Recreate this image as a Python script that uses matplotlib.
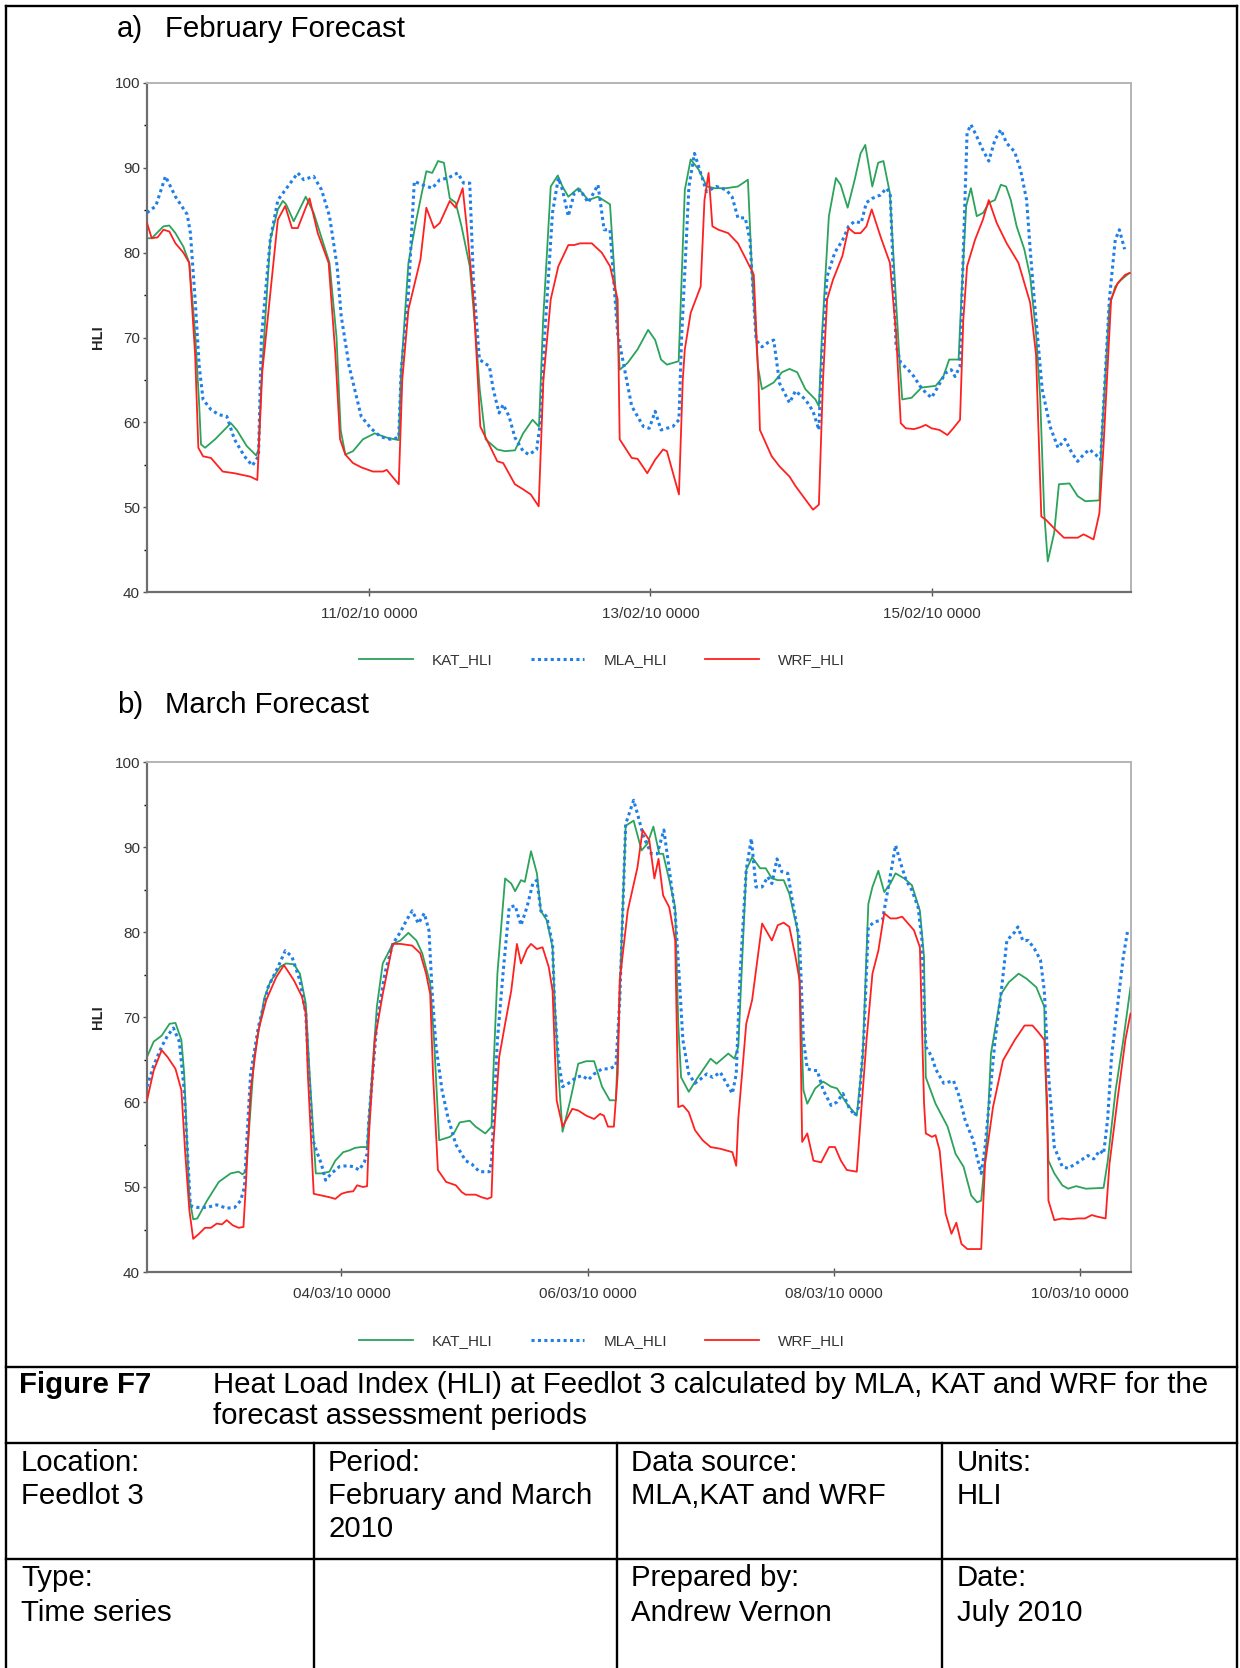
import datetime as dt
import matplotlib
matplotlib.use("Agg")
import matplotlib.pyplot as plt
import matplotlib.dates as mdates
from matplotlib.lines import Line2D
from matplotlib.ticker import MultipleLocator

plt.rcParams['font.family'] = ['Liberation Sans', 'DejaVu Sans']

W, H = 1240, 1668

# ---- February panel: (hours after left edge, HLI) ----
feb_start = dt.datetime(2010, 2, 9, 10, 12)
feb_span_h = 167.6
feb_ticks = [dt.datetime(2010, 2, 11), dt.datetime(2010, 2, 13), dt.datetime(2010, 2, 15)]

kat_feb = [(0.0, 81.7), (0.8, 81.7), (2.8, 83.1), (3.8, 83.2), (4.85, 82.3), (6.2, 80.7), (7.2, 78.8),
           (8.2, 70.5), (8.9, 62.0), (9.2, 57.4), (9.9, 57.0), (11.6, 58.0), (14.3, 59.9), (15.3, 59.1),
           (17.0, 57.2), (18.6, 56.1), (19.0, 56.8), (19.5, 65.0), (21.0, 81.5), (22.3, 85.1), (23.15, 86.1),
           (23.7, 85.7), (25.0, 83.7), (27.05, 86.6), (28.4, 84.7), (31.1, 78.8), (32.3, 70.0), (33.0, 59.1),
           (33.8, 56.2), (35.1, 56.6), (36.8, 58.0), (38.8, 58.7), (40.85, 58.2), (42.9, 57.9), (43.3, 66.0),
           (44.55, 78.8), (45.9, 83.9), (47.6, 89.6), (48.6, 89.4), (49.6, 90.8), (50.6, 90.6), (51.6, 86.4),
           (52.6, 85.9), (53.6, 83.1), (55.0, 78.4), (56.0, 70.5), (56.7, 63.9), (57.7, 58.0), (59.7, 56.8),
           (61.0, 56.6), (62.7, 56.7), (64.1, 58.7), (65.7, 60.3), (66.8, 59.5), (67.5, 72.0), (68.8, 87.8),
           (70.0, 89.1), (70.8, 87.8), (71.8, 86.6), (73.5, 87.6), (75.2, 86.2), (76.85, 86.6), (78.9, 85.7),
           (79.9, 75.0), (80.55, 66.2), (81.9, 67.0), (83.6, 68.6), (85.4, 70.9), (86.6, 69.7), (87.6, 67.4),
           (88.6, 66.8), (90.6, 67.2), (91.65, 87.4), (92.65, 91.0), (94.0, 89.8), (95.4, 87.8), (96.7, 87.6),
           (98.7, 87.6), (100.7, 87.8), (102.4, 88.6), (103.1, 77.6), (104.1, 66.6), (104.8, 63.9),
           (106.8, 64.7), (108.2, 65.9), (109.5, 66.3), (110.8, 65.9), (112.2, 63.9), (113.9, 62.7),
           (114.5, 61.9), (115.0, 70.0), (116.2, 84.3), (117.4, 88.8), (118.2, 88.0), (119.4, 85.3),
           (120.6, 88.6), (121.6, 91.7), (122.4, 92.7), (123.6, 87.8), (124.6, 90.6), (125.5, 90.8),
           (126.6, 87.0), (127.3, 78.4), (128.3, 66.6), (128.7, 62.7), (130.3, 62.9), (132.0, 64.1),
           (134.4, 64.3), (135.7, 65.4), (136.7, 67.4), (138.3, 67.4), (138.8, 75.0), (139.6, 85.5),
           (140.4, 87.6), (141.4, 84.3), (142.5, 84.7), (143.5, 85.9), (144.5, 86.2), (145.5, 88.0),
           (146.4, 87.8), (147.2, 86.2), (148.2, 83.1), (149.5, 80.4), (150.5, 77.2), (151.5, 70.5),
           (152.2, 63.0), (152.9, 49.3), (153.5, 43.6), (154.6, 47.0), (155.4, 52.7), (157.2, 52.8),
           (158.6, 51.3), (159.9, 50.7), (162.3, 50.8), (162.6, 57.0), (164.0, 73.7), (165.0, 76.0),
           (166.0, 76.8), (167.4, 77.6)]

mla_feb = [(0.0, 84.7), (1.5, 85.5), (3.15, 89.0), (4.85, 86.6), (6.85, 84.5), (7.4, 82.3), (8.2, 74.5),
           (8.9, 66.6), (9.55, 62.7), (10.9, 61.5), (12.25, 60.9), (13.6, 60.7), (14.9, 58.0), (16.6, 56.0),
           (17.95, 54.9), (19.0, 56.0), (19.5, 70.0), (21.0, 81.5), (22.3, 86.2), (24.0, 87.8), (25.7, 89.4),
           (26.7, 88.6), (28.4, 89.0), (29.75, 87.4), (31.1, 84.3), (32.4, 78.4), (33.1, 72.5), (34.45, 66.6),
           (35.8, 62.7), (36.5, 60.7), (38.15, 59.3), (39.8, 58.3), (41.5, 58.0), (42.9, 58.2), (43.3, 66.0),
           (44.55, 75.2), (45.55, 88.4), (46.9, 88.0), (48.6, 87.6), (49.9, 88.6), (51.3, 88.8), (52.95, 89.4),
           (53.95, 88.2), (55.0, 88.2), (55.65, 76.4), (56.65, 67.4), (58.35, 66.6), (59.0, 63.9),
           (60.0, 61.1), (60.7, 62.1), (61.7, 60.7), (62.7, 58.2), (64.1, 56.6), (65.1, 56.2), (66.4, 56.8),
           (67.1, 60.3), (67.75, 70.0), (69.1, 84.7), (70.1, 88.8), (70.8, 87.4), (71.8, 84.3), (72.8, 87.0),
           (73.8, 87.4), (75.2, 85.9), (76.85, 88.0), (77.9, 82.7), (78.9, 82.7), (80.2, 70.5), (82.6, 61.9),
           (84.6, 59.5), (85.6, 59.3), (86.6, 61.3), (87.6, 59.1), (89.6, 59.5), (90.65, 60.3), (91.1, 70.0),
           (92.35, 87.8), (93.3, 91.7), (94.35, 89.4), (95.35, 87.2), (97.05, 87.8), (98.7, 87.4),
           (99.7, 86.6), (100.7, 84.1), (101.95, 84.1), (102.75, 81.5), (103.8, 69.7), (104.8, 68.9),
           (105.8, 69.4), (106.8, 69.7), (107.8, 64.6), (109.5, 62.3), (110.5, 63.7), (112.2, 62.7),
           (113.5, 61.3), (114.5, 59.1), (115.0, 68.0), (115.9, 77.2), (117.2, 80.0), (118.55, 81.5),
           (119.55, 83.1), (120.6, 83.7), (121.7, 83.5), (122.6, 85.9), (123.6, 86.4), (125.0, 86.8),
           (126.0, 87.6), (126.65, 87.0), (127.65, 69.0), (128.45, 67.0), (129.7, 66.2), (130.7, 65.4),
           (131.7, 64.3), (132.7, 63.5), (133.7, 62.9), (134.7, 64.1), (136.05, 65.8), (137.05, 66.2),
           (137.7, 65.4), (138.55, 66.6), (139.1, 80.0), (139.75, 94.1), (140.4, 95.1), (141.4, 93.7),
           (142.45, 92.1), (143.45, 90.8), (144.5, 93.3), (145.5, 94.5), (146.5, 92.9), (147.85, 91.9),
           (148.85, 89.8), (149.9, 86.2), (150.5, 80.4), (151.2, 74.5), (152.2, 66.6), (152.55, 63.9),
           (153.9, 59.5), (155.25, 57.0), (156.45, 58.0), (157.6, 56.4), (158.6, 55.4), (159.6, 56.2),
           (160.6, 56.8), (161.65, 56.2), (162.5, 55.6), (163.0, 61.9), (164.0, 74.5), (165.0, 81.5),
           (165.7, 82.7), (166.6, 80.4)]

wrf_feb = [(0.0, 83.5), (0.8, 81.7), (1.8, 81.8), (2.8, 82.7), (3.8, 82.5), (4.85, 81.1), (6.2, 80.0),
           (7.2, 78.8), (8.2, 68.0), (8.75, 57.0), (9.55, 56.0), (10.9, 55.8), (12.9, 54.2), (14.9, 54.0),
           (17.6, 53.6), (18.8, 53.2), (19.65, 66.0), (22.3, 83.9), (23.55, 85.5), (24.7, 82.9), (25.7, 82.9),
           (27.05, 85.3), (27.7, 86.4), (29.1, 82.3), (30.95, 78.8), (32.1, 68.0), (32.9, 58.0), (33.8, 56.2),
           (35.1, 55.2), (36.5, 54.7), (38.5, 54.2), (40.2, 54.2), (40.85, 54.4), (42.9, 52.7), (43.5, 65.0),
           (44.55, 73.3), (46.6, 79.2), (47.6, 85.3), (48.9, 82.9), (49.9, 83.5), (51.6, 86.1), (52.6, 85.3),
           (53.8, 87.6), (54.6, 82.3), (55.65, 74.5), (56.8, 59.5), (58.7, 56.8), (59.7, 55.4), (60.7, 55.2),
           (62.7, 52.7), (64.1, 52.1), (65.4, 51.5), (66.75, 50.1), (67.55, 65.0), (68.8, 74.5), (70.1, 78.4),
           (71.8, 80.9), (72.8, 80.9), (73.8, 81.1), (75.8, 81.1), (77.5, 80.0), (78.9, 78.4), (80.2, 74.5),
           (80.55, 58.0), (82.6, 55.8), (83.6, 55.7), (85.25, 54.0), (86.6, 55.6), (87.95, 56.8), (88.6, 56.6),
           (90.65, 51.5), (91.3, 65.0), (91.65, 68.6), (92.65, 72.9), (94.35, 76.0), (95.0, 86.2), (95.7, 89.4),
           (96.35, 83.1), (97.4, 82.7), (99.05, 82.3), (100.7, 81.1), (102.1, 79.2), (103.4, 77.4),
           (104.2, 65.0), (104.45, 59.1), (106.45, 56.0), (107.8, 54.8), (109.5, 53.6), (110.5, 52.5),
           (112.2, 50.9), (113.5, 49.7), (114.5, 50.3), (115.2, 65.0), (115.9, 74.5), (116.9, 76.8),
           (118.5, 79.6), (119.55, 82.9), (120.6, 82.3), (121.6, 82.3), (122.6, 83.1), (123.5, 85.1),
           (125.0, 81.9), (126.6, 78.8), (127.65, 70.5), (128.45, 59.9), (129.3, 59.3), (130.7, 59.2),
           (131.7, 59.4), (132.7, 59.7), (133.7, 59.3), (135.05, 59.1), (136.4, 58.5), (137.4, 59.3),
           (138.55, 60.3), (139.1, 72.0), (139.75, 78.4), (141.1, 81.5), (142.45, 83.9), (143.45, 86.2),
           (144.8, 83.5), (146.5, 81.1), (148.5, 78.8), (150.5, 74.1), (151.5, 68.0), (152.4, 48.9),
           (153.2, 48.5), (154.6, 47.5), (156.25, 46.4), (158.6, 46.4), (159.6, 46.8), (161.3, 46.2),
           (162.3, 49.3), (163.0, 57.2), (164.3, 74.5), (165.4, 76.4), (166.7, 77.4), (167.5, 77.6)]

# ---- March panel ----
mar_start = dt.datetime(2010, 3, 2, 10, 6)
mar_span_h = 191.7
mar_ticks = [dt.datetime(2010, 3, 4), dt.datetime(2010, 3, 6), dt.datetime(2010, 3, 8), dt.datetime(2010, 3, 10)]

kat_mar = [(0.0, 65.3), (1.3, 67.1), (2.85, 67.8), (4.4, 69.2), (5.55, 69.3), (6.7, 67.3), (7.25, 63.3),
           (8.25, 48.8), (9.0, 46.2), (9.8, 46.3), (11.7, 48.4), (14.0, 50.6), (16.3, 51.6), (17.85, 51.8),
           (18.6, 51.5), (19.25, 51.8), (19.8, 56.0), (20.9, 65.3), (22.85, 72.2), (24.0, 74.1), (25.95, 75.9),
           (27.1, 76.3), (28.65, 76.2), (29.8, 75.1), (30.95, 71.6), (31.7, 63.3), (32.9, 51.6), (34.0, 51.6),
           (35.55, 51.8), (36.7, 53.1), (38.25, 54.1), (39.4, 54.3), (40.55, 54.6), (41.7, 54.7), (42.9, 54.7),
           (43.25, 58.0), (44.8, 71.2), (45.95, 76.3), (47.9, 78.6), (49.4, 79.0), (50.95, 79.9), (52.5, 79.0),
           (53.65, 77.5), (55.2, 73.9), (55.95, 67.3), (56.95, 55.5), (59.05, 55.9), (59.8, 56.3),
           (60.95, 57.6), (62.9, 57.8), (64.05, 57.1), (65.95, 56.3), (67.15, 57.1), (67.5, 63.3),
           (68.3, 75.1), (69.8, 86.3), (71.0, 85.7), (71.75, 84.8), (72.9, 86.1), (73.65, 85.9), (74.85, 89.5),
           (76.0, 86.9), (76.75, 82.5), (77.9, 81.4), (79.05, 78.2), (79.45, 72.0), (80.2, 63.3), (81.0, 56.5),
           (82.5, 60.2), (84.05, 64.5), (85.6, 64.8), (87.15, 64.8), (88.7, 61.8), (90.2, 60.2), (91.4, 60.2),
           (93.3, 92.5), (94.85, 93.1), (96.4, 89.6), (97.55, 90.4), (98.7, 92.4), (99.85, 89.2),
           (100.6, 89.2), (101.8, 86.1), (102.95, 82.9), (103.55, 69.2), (104.1, 62.9), (105.6, 61.2),
           (107.15, 62.7), (109.85, 65.1), (111.0, 64.5), (112.15, 65.1), (113.3, 65.7), (114.5, 65.1),
           (115.25, 66.5), (116.8, 87.3), (117.95, 88.8), (119.5, 87.5), (120.6, 87.5), (121.8, 86.3),
           (122.95, 86.1), (124.1, 86.1), (125.2, 84.5), (126.8, 80.2), (127.4, 71.2), (127.95, 61.4),
           (128.7, 59.8), (130.25, 61.6), (131.8, 62.4), (133.35, 61.8), (134.5, 61.6), (136.4, 59.8),
           (138.35, 58.4), (139.5, 65.3), (140.6, 83.3), (141.4, 85.3), (142.55, 87.2), (143.7, 84.7),
           (144.9, 85.7), (145.9, 86.9), (147.6, 86.3), (149.1, 85.5), (150.65, 82.5), (151.45, 77.1),
           (151.8, 62.9), (153.7, 59.8), (156.05, 57.1), (157.6, 53.9), (159.15, 52.4), (160.65, 49.0),
           (161.8, 48.2), (162.6, 48.4), (163.75, 56.0), (164.5, 65.7), (166.45, 72.7), (168.0, 74.1),
           (169.9, 75.1), (171.45, 74.5), (173.35, 73.5), (174.9, 71.2), (175.15, 63.3), (175.7, 53.1),
           (176.85, 51.6), (178.4, 50.2), (179.55, 49.8), (181.1, 50.1), (183.0, 49.8), (186.45, 49.9),
           (187.25, 53.0), (188.8, 61.4), (190.3, 67.3), (191.7, 73.5)]

mla_mar = [(0.0, 61.8), (1.3, 64.3), (2.85, 66.5), (4.0, 67.8), (5.15, 68.7), (6.3, 67.1), (7.25, 61.4),
           (8.45, 47.8), (9.8, 47.6), (11.7, 47.6), (13.6, 47.9), (15.55, 47.5), (17.1, 47.6), (18.25, 48.4),
           (19.0, 50.0), (19.4, 55.0), (20.2, 63.3), (21.7, 68.8), (23.6, 73.5), (25.55, 75.9), (26.95, 77.8),
           (28.25, 77.1), (29.8, 74.3), (30.95, 70.4), (31.55, 63.3), (32.35, 55.5), (33.25, 53.9),
           (34.0, 52.7), (34.8, 50.8), (35.95, 51.6), (37.5, 52.4), (39.0, 52.5), (40.2, 52.4), (41.35, 52.0),
           (42.35, 52.9), (42.9, 53.9), (43.25, 58.0), (44.8, 69.2), (46.35, 75.1), (47.9, 78.6), (49.4, 80.0),
           (50.6, 81.4), (51.7, 82.5), (52.9, 81.0), (54.05, 82.2), (54.95, 80.2), (55.6, 72.7), (56.35, 66.5),
           (57.5, 61.4), (58.65, 58.2), (60.2, 55.0), (62.1, 53.1), (63.3, 52.7), (64.8, 51.8), (66.75, 51.8),
           (67.15, 53.0), (68.3, 67.3), (69.45, 75.5), (70.6, 82.9), (71.75, 83.1), (72.9, 80.8), (74.05, 82.9),
           (75.2, 85.7), (76.0, 86.1), (76.75, 82.5), (77.9, 81.8), (79.05, 78.6), (79.45, 71.2), (80.2, 64.9),
           (81.0, 61.8), (82.15, 62.2), (83.7, 62.9), (84.85, 63.1), (86.0, 62.6), (87.15, 63.3), (88.7, 63.9),
           (90.2, 63.9), (91.4, 64.3), (92.15, 72.0), (93.3, 92.7), (94.85, 95.5), (95.6, 93.9), (96.8, 91.2),
           (98.3, 89.2), (99.45, 89.2), (100.75, 92.0), (101.8, 87.3), (102.95, 82.2), (103.7, 75.1),
           (104.45, 67.3), (105.6, 63.3), (106.8, 62.2), (107.9, 62.7), (109.1, 63.3), (110.25, 62.9),
           (111.75, 63.5), (112.95, 62.2), (114.1, 61.0), (114.85, 63.3), (115.6, 75.0), (116.8, 87.3),
           (117.8, 91.0), (118.7, 85.3), (119.9, 85.3), (121.0, 86.5), (121.8, 85.7), (122.8, 88.6),
           (123.7, 87.1), (124.9, 86.9), (126.0, 82.9), (127.2, 79.0), (127.95, 67.3), (128.7, 63.9),
           (129.9, 63.7), (130.65, 63.7), (131.8, 61.4), (133.35, 59.6), (134.5, 60.0), (135.65, 61.0),
           (136.8, 59.4), (137.95, 58.4), (138.7, 59.4), (139.7, 67.3), (140.6, 80.6), (141.8, 81.2),
           (143.35, 81.4), (144.5, 85.3), (145.9, 90.2), (146.95, 88.0), (147.95, 86.1), (149.1, 84.9),
           (150.3, 82.9), (151.05, 79.0), (151.8, 66.5), (153.0, 65.3), (153.7, 63.9), (155.3, 62.2),
           (157.2, 62.5), (158.35, 60.6), (159.5, 57.8), (161.05, 55.5), (161.8, 53.5), (162.6, 51.6),
           (163.35, 54.7), (165.3, 67.3), (166.45, 72.7), (167.6, 79.0), (169.15, 80.0), (169.75, 80.6),
           (170.7, 79.0), (171.8, 79.0), (173.0, 78.0), (174.15, 76.7), (174.9, 73.1), (175.7, 63.3),
           (176.85, 54.7), (178.4, 52.4), (179.55, 52.2), (181.45, 52.9), (183.4, 53.7), (184.55, 53.3),
           (185.7, 54.3), (186.45, 53.9), (187.25, 58.0), (188.0, 65.3), (189.15, 71.2), (190.3, 77.1),
           (191.1, 80.0)]

wrf_mar = [(0.0, 60.2), (1.3, 63.7), (2.85, 66.1), (4.0, 65.3), (5.55, 63.9), (6.7, 61.4), (7.45, 54.0),
           (8.25, 47.3), (9.0, 43.9), (10.15, 44.5), (11.3, 45.2), (12.45, 45.2), (13.6, 45.7), (14.6, 45.6),
           (15.55, 46.1), (16.7, 45.5), (17.85, 45.2), (18.8, 45.3), (19.25, 50.0), (20.2, 61.4), (21.7, 68.4),
           (23.25, 72.0), (25.2, 74.7), (26.7, 76.1), (28.65, 74.3), (30.2, 72.4), (30.95, 70.4), (31.35, 63.3),
           (32.5, 49.2), (34.0, 49.0), (35.55, 48.8), (36.7, 48.6), (37.9, 49.2), (39.0, 49.4), (40.2, 49.5),
           (40.95, 50.2), (42.1, 50.0), (42.9, 50.1), (43.25, 56.0), (44.4, 67.3), (45.95, 72.7), (47.9, 78.6),
           (49.4, 78.6), (51.7, 78.4), (53.25, 77.5), (54.4, 75.1), (55.2, 72.7), (55.75, 63.3), (56.7, 52.0),
           (58.3, 50.6), (60.2, 50.2), (61.35, 49.4), (62.1, 49.1), (64.05, 49.1), (65.2, 48.8), (66.35, 48.6),
           (67.15, 48.8), (67.5, 55.0), (68.65, 65.3), (69.8, 69.2), (71.0, 73.1), (72.1, 78.6), (72.9, 76.3),
           (74.05, 78.0), (74.85, 78.6), (76.0, 78.0), (77.1, 78.2), (78.3, 75.9), (79.05, 73.1), (79.85, 60.2),
           (81.0, 57.1), (82.9, 59.2), (84.05, 59.0), (85.6, 58.4), (87.15, 58.0), (88.3, 58.6), (89.05, 58.4),
           (89.85, 57.1), (91.0, 57.1), (91.75, 63.3), (92.15, 74.3), (93.7, 82.5), (95.6, 87.6), (96.6, 92.0),
           (97.9, 90.8), (98.9, 86.3), (99.7, 88.6), (100.6, 84.3), (101.8, 82.9), (102.95, 79.0),
           (103.55, 59.4), (104.45, 59.6), (105.6, 58.8), (106.8, 56.7), (108.3, 55.5), (109.85, 54.7),
           (111.75, 54.5), (112.95, 54.3), (114.1, 54.1), (114.85, 52.5), (115.25, 58.0), (116.8, 69.2),
           (117.95, 72.0), (119.9, 81.0), (121.8, 79.0), (122.95, 80.8), (124.1, 81.1), (125.2, 80.6),
           (126.4, 77.1), (127.2, 74.3), (127.7, 55.3), (128.7, 56.3), (129.9, 53.1), (131.4, 52.9),
           (132.95, 54.7), (134.1, 54.7), (135.25, 53.1), (136.4, 52.0), (138.35, 51.8), (139.1, 58.0),
           (140.25, 67.3), (141.4, 75.1), (142.55, 77.8), (143.7, 82.2), (144.9, 81.6), (146.05, 81.6),
           (147.2, 81.8), (148.35, 81.0), (149.5, 80.2), (150.65, 78.2), (151.45, 60.0), (151.8, 56.3),
           (153.0, 55.9), (153.7, 56.1), (154.5, 54.3), (155.65, 46.9), (156.8, 44.5), (157.75, 45.8),
           (158.75, 43.3), (159.9, 42.7), (162.6, 42.7), (163.35, 52.7), (164.9, 59.4), (166.85, 64.9),
           (169.15, 67.3), (171.05, 69.0), (172.6, 69.0), (173.75, 68.2), (174.9, 67.3), (175.45, 60.0),
           (175.7, 48.4), (176.85, 46.1), (178.4, 46.3), (179.95, 46.2), (181.45, 46.3), (182.85, 46.3),
           (184.15, 46.7), (185.3, 46.5), (186.85, 46.3), (187.6, 52.7), (189.15, 60.2), (190.7, 67.3),
           (191.7, 70.4)]

series_names = ['KAT_HLI', 'MLA_HLI', 'WRF_HLI']
series_colors = ['#2ba35b', '#1f7fe8', '#ff2020']


def fx(x):
    return x / W


def fy(y):
    return 1 - y / H


fig = plt.figure(figsize=(W / 100, H / 100), dpi=100)


def draw_panel(top, bottom, start, span_h, ticks, series, legend_y):
    ax = fig.add_axes([fx(147), fy(bottom), fx(1130.5) - fx(147), fy(top) - fy(bottom)])
    handles = []
    for name, pts, color in zip(series_names, series, series_colors):
        times = [start + dt.timedelta(hours=h) for h, v in pts]
        vals = [v for h, v in pts]
        if name == 'MLA_HLI':
            ln, = ax.plot(times, vals, color=color, lw=2.2, linestyle=(0, (1, 1.1)),
                          dash_capstyle='butt', label=name, zorder=3)
        else:
            ln, = ax.plot(times, vals, color=color, lw=1.3, label=name,
                          zorder=4 if name == 'WRF_HLI' else 2)
        handles.append(ln)

    ax.set_xlim(start, start + dt.timedelta(hours=span_h))
    ax.set_ylim(40, 100)
    ax.set_xticks(ticks)
    ax.xaxis.set_major_formatter(mdates.DateFormatter('%d/%m/%y %H%M'))
    ax.yaxis.set_major_locator(MultipleLocator(10))
    ax.yaxis.set_minor_locator(MultipleLocator(5))
    ax.tick_params(axis='both', labelsize=11, labelcolor='#333333', color='#555555')
    ax.tick_params(axis='y', which='major', length=3, width=1, pad=2)
    ax.tick_params(axis='y', which='minor', length=2, width=1)
    ax.tick_params(axis='x', direction='inout', length=6, width=1, pad=8)
    for s in ['left', 'bottom']:
        ax.spines[s].set_color('#6e6e6e')
        ax.spines[s].set_linewidth(1.6)
    for s in ['top', 'right']:
        ax.spines[s].set_color('#b4b4b4')
        ax.spines[s].set_linewidth(1.4)
    ax.set_ylabel('HLI', fontsize=10.5, fontweight='bold', color='#222222')
    ax.yaxis.set_label_coords(-0.043, 0.5)

    fig.legend(handles=handles, loc='center', bbox_to_anchor=(fx(602), fy(legend_y)), ncol=3,
               frameon=False, fontsize=11, handlelength=3.5, handletextpad=1.25,
               columnspacing=2.5, labelcolor='#333333')
    return ax


draw_panel(83, 592, feb_start, feb_span_h, feb_ticks, [kat_feb, mla_feb, wrf_feb], 660)
draw_panel(762, 1272, mar_start, mar_span_h, mar_ticks, [kat_mar, mla_mar, wrf_mar], 1341)

# panel headings
fs = 21.2
fig.text(fx(117), fy(29), 'a)', fontsize=fs, va='center')
fig.text(fx(165), fy(29), 'February Forecast', fontsize=fs, va='center')
fig.text(fx(117), fy(705), 'b)', fontsize=fs, va='center')
fig.text(fx(165), fy(705), 'March Forecast', fontsize=fs, va='center')

# frame and table lines
lw = 1.7
frame = [((6, 6), (1237, 6)), ((6, 6), (6, 1668)), ((1237, 6), (1237, 1668)),
         ((6, 1367), (1237, 1367)), ((6, 1443), (1237, 1443)), ((6, 1559), (1237, 1559)),
         ((314, 1443), (314, 1668)), ((617, 1443), (617, 1668)), ((942, 1443), (942, 1668))]
for (x0, y0), (x1, y1) in frame:
    fig.add_artist(Line2D([fx(x0), fx(x1)], [fy(y0), fy(y1)], transform=fig.transFigure,
                          color='black', lw=lw))

# caption
fig.text(fx(19), fy(1385), 'Figure F7', fontsize=fs, fontweight='bold', va='center')
fig.text(fx(213), fy(1385), 'Heat Load Index (HLI) at Feedlot 3 calculated by MLA, KAT and WRF for the',
         fontsize=fs, va='center')
fig.text(fx(213), fy(1416), 'forecast assessment periods', fontsize=fs, va='center')

cells = [(21, 1463, 'Location:'), (21, 1496, 'Feedlot 3'),
         (328, 1463, 'Period:'), (328, 1496, 'February and March'), (328, 1529, '2010'),
         (631, 1463, 'Data source:'), (631, 1496, 'MLA,KAT and WRF'),
         (957, 1463, 'Units:'), (957, 1496, 'HLI'),
         (21, 1578, 'Type:'), (21, 1613, 'Time series'),
         (631, 1578, 'Prepared by:'), (631, 1613, 'Andrew Vernon'),
         (957, 1578, 'Date:'), (957, 1613, 'July 2010')]
for x, y, s in cells:
    fig.text(fx(x), fy(y), s, fontsize=fs, va='center')

fig.savefig('out.png', dpi=100)
